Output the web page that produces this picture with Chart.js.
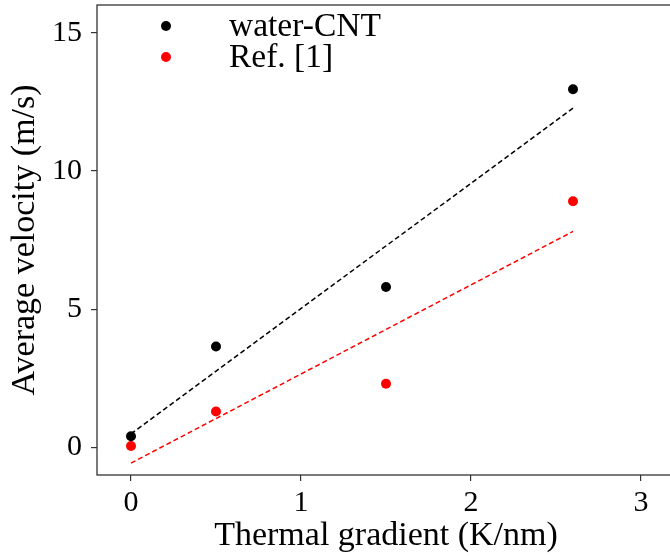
<!DOCTYPE html>
<html>
<head>
<meta charset="utf-8">
<script src="https://cdn.jsdelivr.net/npm/chart.js@4"></script>
<style>
  html, body { margin: 0; padding: 0; background: #fff; overflow: hidden; width: 670px; height: 556px; }
  canvas { display: block; }
</style>
</head>
<body>
<canvas id="velocityChart" width="680" height="556"></canvas>
<script>
// measured velocities against the imposed thermal gradient
const gradient = [0, 0.5, 1.5, 2.6];
const waterCnt = [0.4, 3.65, 5.8, 12.95];
const refOne = [0.05, 1.3, 2.3, 8.9];

// end points of the linear fits
const fitX = [0, 2.6];
const waterCntFit = [0.49, 12.27];
const refOneFit = [-0.57, 7.81];

const xTicks = [0, 1, 2, 3];
const yTicks = [0, 5, 10, 15];

const serif = '"Liberation Serif", "Times New Roman", serif';
const axisGray = '#333333';

function pts(xs, ys) {
    return xs.map((x, i) => ({ x, y: ys[i] }));
}

// closed box around the plotting area
const frame = {
    id: 'frame',
    afterDraw(chart) {
        const { ctx, chartArea: a } = chart;
        ctx.save();
        ctx.strokeStyle = axisGray;
        ctx.lineWidth = 1.3;
        ctx.strokeRect(a.left, a.top, a.right - a.left, a.bottom - a.top);
        ctx.restore();
    }
};

// legend in the upper left corner, markers only for the scatter series
const cornerLegend = {
    id: 'cornerLegend',
    afterDraw(chart) {
        const { ctx, chartArea: a } = chart;
        const items = chart.data.datasets.filter(d => d.type === 'scatter');
        ctx.save();
        ctx.font = '33.5px ' + serif;
        ctx.textBaseline = 'middle';
        items.forEach((d, i) => {
            const y = a.top + 21 + i * 31;
            ctx.beginPath();
            ctx.arc(a.left + 69, y, 5, 0, Math.PI * 2);
            ctx.fillStyle = d.backgroundColor;
            ctx.fill();
            ctx.fillStyle = '#000';
            ctx.fillText(d.label, a.left + 132, y + 1);
        });
        ctx.restore();
    }
};

// keep tick labels from pushing the plot area inwards
function noLabelPadding(s) {
    s.paddingTop = 0;
    s.paddingBottom = 0;
    s.paddingLeft = 0;
    s.paddingRight = 0;
}

new Chart(document.getElementById('velocityChart'), {
    data: {
        datasets: [
            {
                type: 'scatter',
                label: 'water-CNT',
                data: pts(gradient, waterCnt),
                backgroundColor: '#000000',
                borderWidth: 0,
                pointRadius: 5,
                order: 0
            },
            {
                type: 'scatter',
                label: 'Ref. [1]',
                data: pts(gradient, refOne),
                backgroundColor: '#ff0000',
                borderWidth: 0,
                pointRadius: 5,
                order: 0
            },
            {
                type: 'line',
                label: 'water-CNT fit',
                data: pts(fitX, waterCntFit),
                borderColor: '#000000',
                borderWidth: 1.5,
                borderDash: [5, 3],
                pointRadius: 0,
                fill: false,
                order: 1
            },
            {
                type: 'line',
                label: 'Ref. [1] fit',
                data: pts(fitX, refOneFit),
                borderColor: '#ff0000',
                borderWidth: 1.5,
                borderDash: [5, 3],
                pointRadius: 0,
                fill: false,
                order: 1
            }
        ]
    },
    options: {
        responsive: false,
        animation: false,
        layout: { padding: { top: 3, right: 3, left: 0, bottom: 0 } },
        plugins: {
            legend: { display: false },
            tooltip: { enabled: false }
        },
        scales: {
            x: {
                type: 'linear',
                min: -0.2,
                max: 3.2,
                afterBuildTicks: s => { s.ticks = xTicks.map(v => ({ value: v })); },
                afterFit: s => { s.height = 81; noLabelPadding(s); },
                border: { display: false },
                grid: { drawOnChartArea: false, drawTicks: true, tickLength: 6, color: axisGray, lineWidth: 1.2 },
                ticks: { color: '#000', font: { family: serif, size: 30 }, padding: 4, maxRotation: 0 },
                title: {
                    display: true,
                    text: 'Thermal gradient (K/nm)',
                    color: '#000',
                    font: { family: serif, size: 34, lineHeight: 1.2 },
                    padding: { top: 0, bottom: 0 }
                }
            },
            y: {
                type: 'linear',
                min: -1,
                max: 16,
                afterBuildTicks: s => { s.ticks = yTicks.map(v => ({ value: v })); },
                afterFit: s => { s.width = 97; noLabelPadding(s); },
                border: { display: false },
                grid: { drawOnChartArea: false, drawTicks: true, tickLength: 6, color: axisGray, lineWidth: 1.2 },
                ticks: { color: '#000', font: { family: serif, size: 30 }, padding: 9 },
                title: {
                    display: true,
                    text: 'Average velocity (m/s)',
                    color: '#000',
                    font: { family: serif, size: 34, lineHeight: 1.2 },
                    padding: { top: 5, bottom: 0 }
                }
            }
        }
    },
    plugins: [frame, cornerLegend]
});
</script>
</body>
</html>
